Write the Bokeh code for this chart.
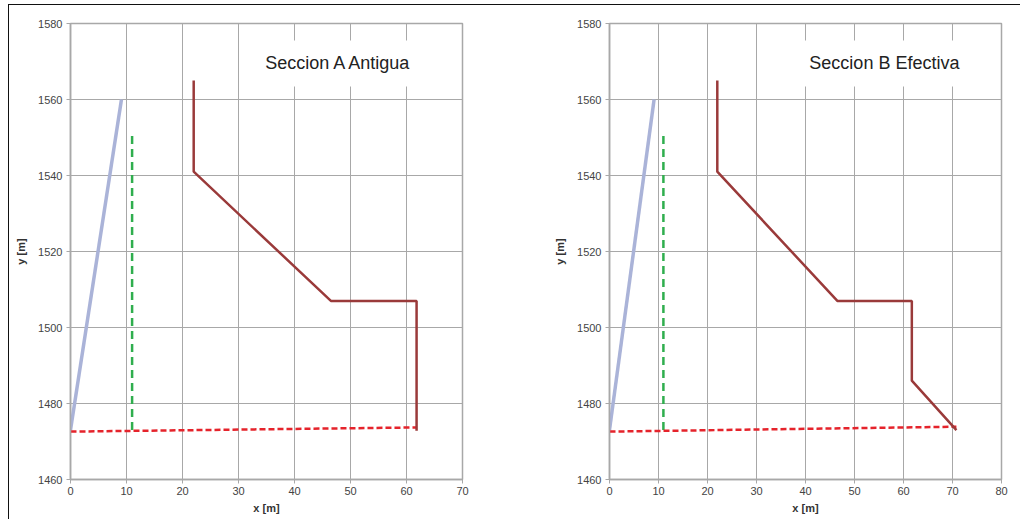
from bokeh.plotting import figure
from bokeh.layouts import row
from bokeh.models import Range1d, Label, FixedTicker
from bokeh.embed import file_html
from bokeh.resources import INLINE

# ---- data ----
x_ticks_a = [0, 10, 20, 30, 40, 50, 60, 70]
x_ticks_b = [0, 10, 20, 30, 40, 50, 60, 70, 80]
y_ticks = [1460, 1480, 1500, 1520, 1540, 1560, 1580]

blue_x = [0, 9.1]
blue_y = [1473, 1560]
green_x = [11, 11]
green_y = [1473, 1550.5]

red_a_x = [0, 61.8]
red_a_y = [1472.6, 1473.7]
brown_a_x = [22, 22, 46.5, 61.8, 61.8]
brown_a_y = [1565, 1541, 1507, 1507, 1472.8]

red_b_x = [0, 70.8]
red_b_y = [1472.6, 1473.9]
brown_b_x = [22, 22, 46.5, 61.7, 61.7, 70.8]
brown_b_y = [1565, 1541, 1507, 1507, 1486, 1473]

title_a = "Seccion A Antigua"
title_b = "Seccion B Efectiva"

FONT = "Liberation Sans"
BROWN = "#9a3a3a"
BLUE = "#aab3d8"
GREEN = "#2fae4e"
RED = "#e5232b"
GRID = "#a8a8a8"


def make(xmax, xticks, bx, by, rx, ry, title, tx, width, left, right, frame_css):
    p = figure(width=width, height=519, output_backend="svg", toolbar_location=None,
               x_range=Range1d(0, xmax), y_range=Range1d(1460, 1580),
               min_border_left=left, min_border_right=right,
               min_border_top=23, min_border_bottom=40,
               styles={"background": frame_css})
    p.background_fill_color = "white"
    p.border_fill_color = None
    p.outline_line_color = GRID
    p.outline_line_width = 1.5
    for ax in (p.xaxis[0], p.yaxis[0]):
        ax.axis_line_color = GRID
        ax.axis_line_width = 1.5
        ax.major_tick_line_color = GRID
        ax.major_tick_in = 0
        ax.minor_tick_line_color = None
        ax.major_label_text_font = FONT
        ax.major_label_text_font_size = "11px"
        ax.major_label_text_color = "#444444"
        ax.axis_label_text_font = FONT
        ax.axis_label_text_font_size = "11px"
        ax.axis_label_text_font_style = "bold"
        ax.axis_label_text_color = "#333333"
    p.xaxis.ticker = FixedTicker(ticks=xticks)
    p.yaxis.ticker = FixedTicker(ticks=y_ticks)
    p.xaxis.axis_label = "x [m]"
    p.yaxis.axis_label = "y [m]"
    p.xaxis.major_tick_out = 4
    p.xaxis.major_label_standoff = 3
    p.xaxis.axis_label_standoff = 4
    p.yaxis.major_tick_out = 4
    p.yaxis.major_label_standoff = 4
    p.yaxis.axis_label_standoff = 8
    p.xgrid.ticker = FixedTicker(ticks=xticks)
    p.ygrid.ticker = FixedTicker(ticks=y_ticks)
    for g in (p.xgrid[0], p.ygrid[0]):
        g.grid_line_color = GRID
        g.grid_line_width = 1

    p.line(blue_x, blue_y, line_color=BLUE, line_width=3.5)
    p.line(green_x, green_y, line_color=GREEN, line_width=2.5, line_dash="8 5")
    p.line(rx, ry, line_color=RED, line_width=2.5, line_dash="6 3")
    p.line(bx, by, line_color=BROWN, line_width=2.5)

    lab = Label(x=tx, y=1569.5, text=title, text_align="center", text_baseline="middle",
                text_font=FONT, text_font_size="18px", text_color="#222222",
                background_fill_color="white",
                padding=dict(left=26, right=26, top=13, bottom=13))
    p.add_layout(lab)
    return p


css_a = ("linear-gradient(#111, #111) 8px 4px / 1px 515px no-repeat, "
         "linear-gradient(#111, #111) 8px 4px / 538px 1px no-repeat, white")
css_b = "linear-gradient(#111, #111) 0px 4px / 474px 1px no-repeat, white"

p1 = make(70, x_ticks_a, brown_a_x, brown_a_y, red_a_x, red_a_y, title_a, 47.9, 546, 70, 84, css_a)
p2 = make(80, x_ticks_b, brown_b_x, brown_b_y, red_b_x, red_b_y, title_b, 56.1, 476, 63, 21, css_b)

layout = row(p1, p2)
open("out.html", "w").write(file_html(layout, INLINE))
